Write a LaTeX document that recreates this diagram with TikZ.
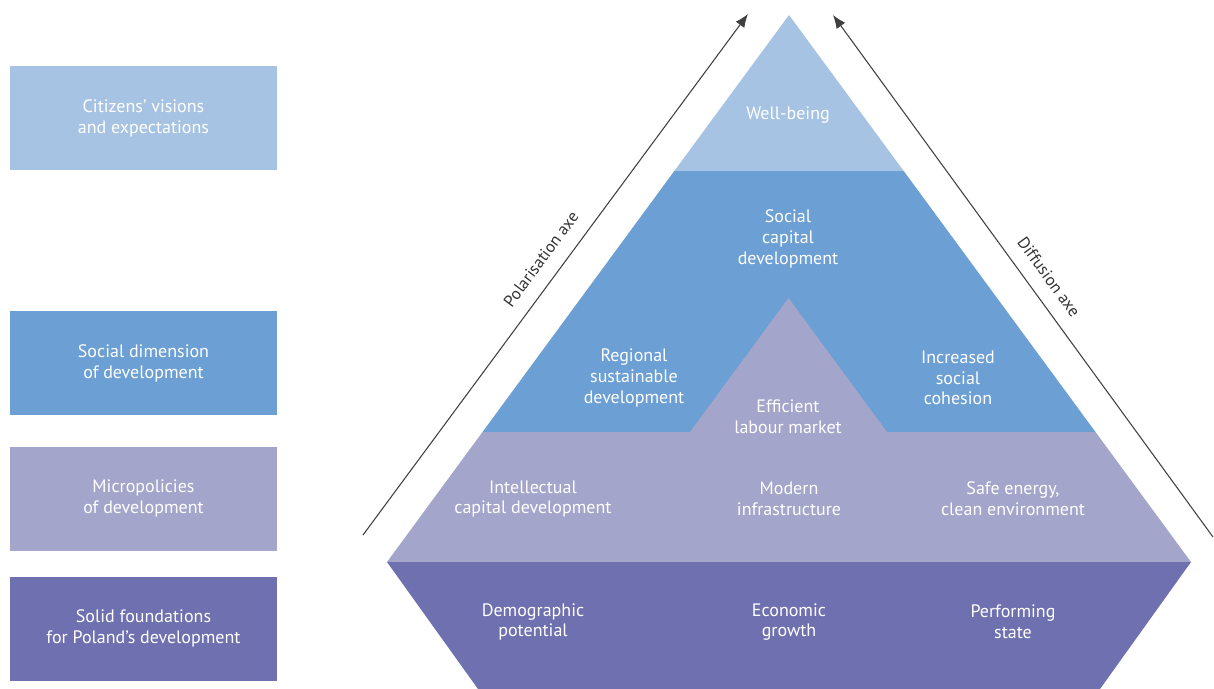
\documentclass[tikz,border=0pt]{standalone}
\usepackage{fontspec}
\setmainfont{PT Sans}
\usetikzlibrary{arrows.meta}
\definecolor{lblue}{HTML}{A7C3E3}
\definecolor{mblue}{HTML}{6C9FD3}
\definecolor{lav}{HTML}{A3A5CA}
\definecolor{purp}{HTML}{6F70B0}
\begin{document}
\begin{tikzpicture}[x=0.75pt,y=-0.75pt,
  lbl/.style={text=white, align=center, font=\fontsize{13.5}{15.6}\selectfont, inner sep=0pt},
  axislbl/.style={text=black!80, font=\fontsize{12.5}{14}\selectfont, inner sep=0pt},
  axisarrow/.style={draw=black!75, line width=0.8pt, -{Latex[length=10pt,width=8pt]}},
  legendbox/.style={lbl, minimum width=200.25pt, minimum height=78pt}]
\useasboundingbox (0,0) rectangle (1214,689);
% legend boxes
\node[legendbox, fill=lblue] (b1) at (143.5,118) {Citizens’ visions\\and expectations};
\node[legendbox, fill=mblue] (b2) at (143.5,363) {Social dimension\\of development};
\node[legendbox, fill=lav]   (b3) at (143.5,498.5) {Micropolicies\\of development};
\node[legendbox, fill=purp]  (b4) at (143.5,628.5) {Solid foundations\\for Poland’s development};
% pyramid layers
\fill[lblue] (789,15) -- (903.7,171) -- (674.3,171) -- cycle;
\fill[mblue] (674.3,171) -- (903.7,171) -- (1095.5,432) -- (482.5,432) -- cycle;
\fill[lav] (482.5,432) -- (690,432) -- (788.5,298) -- (887,432) -- (1095.5,432) -- (1191,562) -- (387,562) -- cycle;
\fill[purp] (387,562) -- (1191,562) -- (1100,689) -- (478,689) -- cycle;
% pyramid labels
\node[lbl] (wb) at (788,115) {Well-being};
\node[lbl] (scd) at (788,239) {Social\\capital\\development};
\node[lbl] (rsd) at (634,378) {Regional\\sustainable\\development};
\node[lbl] (isc) at (958,378) {Increased\\social\\cohesion};
\node[lbl] (elm) at (788,417) {Efficient\\labour market};
\node[lbl] (icd) at (533,499) {Intellectual\\capital development};
\node[lbl] (mi) at (789,499) {Modern\\infrastructure};
\node[lbl] (se) at (1013,499) {Safe energy,\\clean environment};
\node[lbl] (dp) at (533,622) {Demographic\\potential};
\node[lbl] (eg) at (789,622) {Economic\\growth};
\node[lbl] (ps) at (1013,622) {Performing\\state};
% axes
\coordinate (pa) at (363,535);
\coordinate (pb) at (748,14);
\coordinate (da) at (1213,537);
\coordinate (db) at (833,15);
\draw[axisarrow] (pa) -- (pb);
\draw[axisarrow] (da) -- (db);
\node[axislbl, rotate=53.5] (pol) at (541,259) {Polarisation axe};
\node[axislbl, rotate=-54] (dif) at (1049,277) {Diffusion axe};
\end{tikzpicture}
\end{document}
